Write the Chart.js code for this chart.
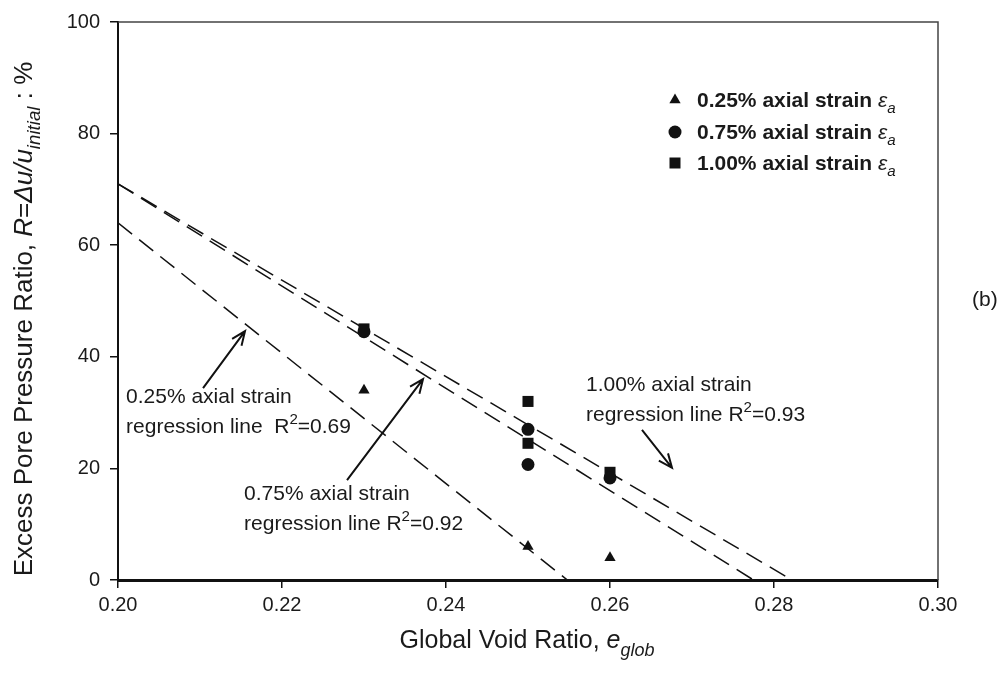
<!DOCTYPE html>
<html>
<head>
<meta charset="utf-8">
<script src="https://cdn.jsdelivr.net/npm/chart.js@4.4.1/dist/chart.umd.min.js"></script>
<style>
html,body{margin:0;padding:0;background:#fff;}
#wrap{width:1008px;height:677px;}
</style>
</head>
<body>
<div id="wrap"><canvas id="c" width="1008" height="677"></canvas></div>
<script>
// ---- data ----
const xTickLabels = ['0.20','0.22','0.24','0.26','0.28','0.30'];
const yTickLabels = ['0','20','40','60','80','100'];

const e025 = [0.23, 0.25, 0.26];
const r025 = [34, 6, 4];
const e075 = [0.23, 0.25, 0.25, 0.26];
const r075 = [44.5, 27, 20.7, 18.3];
const e100 = [0.23, 0.25, 0.25, 0.26];
const r100 = [45, 32, 24.5, 19.3];

// regression lines: endpoints (x at left edge, x at R=0)
const reg025X = [0.20, 0.2548];
const reg025Y = [64, 0];
const reg075X = [0.20, 0.2775];
const reg075Y = [71, 0];
const reg100X = [0.20, 0.2822];
const reg100Y = [71, 0];

const seriesNames = ['0.25% axial strain ', '0.75% axial strain ', '1.00% axial strain '];

// annotation arrows (data coordinates: [x, R])
const arrowFrom = [[0.21037, 34.4], [0.22793, 17.9], [0.26390, 26.9]];
const arrowTo   = [[0.21549, 44.6], [0.23720, 36.0], [0.26756, 20.1]];
// annotation text anchors (data coordinates: left, baseline)
const noteAnchor = [[0.20098, 31.7], [0.21537, 14.3], [0.25707, 33.9]];
const noteLine1 = ['0.25% axial strain', '0.75% axial strain', '1.00% axial strain'];
const noteLine2 = ['regression line  R', 'regression line R', 'regression line R'];
const noteR2 = ['=0.69', '=0.92', '=0.93'];

const pts = (xs, ys) => xs.map((x, i) => ({x: x, y: ys[i]}));

const FONT = '"Liberation Sans", Arial, Helvetica, sans-serif';
const INK = '#111';
const TXT = '#1a1a1a';

function richWidth(ctx, parts, size) {
  let w = 0;
  for (const p of parts) {
    const s = (p.sub || p.sup) ? size * 0.72 : size;
    ctx.font = (p.italic ? 'italic ' : '') + (p.bold ? 'bold ' : '') + s + 'px ' + FONT;
    w += ctx.measureText(p.t).width;
  }
  return w;
}
function drawRich(ctx, x, y, parts, size) {
  ctx.textBaseline = 'alphabetic';
  ctx.textAlign = 'left';
  for (const p of parts) {
    const s = (p.sub || p.sup) ? size * 0.72 : size;
    ctx.font = (p.italic ? 'italic ' : '') + (p.bold ? 'bold ' : '') + s + 'px ' + FONT;
    let dy = 0;
    if (p.sub) dy = size * 0.3;
    if (p.sup) dy = -size * 0.42;
    ctx.fillText(p.t, x, y + dy);
    x += ctx.measureText(p.t).width;
  }
  return x;
}

function drawMarker(ctx, style, x, y) {
  ctx.fillStyle = INK;
  ctx.beginPath();
  if (style === 'triangle') {
    const r = 6.5;
    ctx.moveTo(x, y - r);
    ctx.lineTo(x + r * 0.866, y + r * 0.5);
    ctx.lineTo(x - r * 0.866, y + r * 0.5);
    ctx.closePath();
  } else if (style === 'circle') {
    ctx.arc(x, y, 6.5, 0, Math.PI * 2);
  } else {
    ctx.rect(x - 5.5, y - 5.5, 11, 11);
  }
  ctx.fill();
}

const overlay = {
  id: 'overlay',
  afterDraw(chart) {
    const ctx = chart.ctx;
    const xs = chart.scales.x, ys = chart.scales.y;
    const ca = chart.chartArea;
    ctx.save();
    // top / right frame
    ctx.strokeStyle = '#444';
    ctx.lineWidth = 1.5;
    ctx.beginPath();
    ctx.moveTo(ca.left, ca.top);
    ctx.lineTo(ca.right, ca.top);
    ctx.lineTo(ca.right, ca.bottom);
    ctx.stroke();

    // arrows
    ctx.strokeStyle = INK;
    ctx.lineWidth = 2;
    for (let i = 0; i < arrowFrom.length; i++) {
      const x0 = xs.getPixelForValue(arrowFrom[i][0]), y0 = ys.getPixelForValue(arrowFrom[i][1]);
      const x1 = xs.getPixelForValue(arrowTo[i][0]), y1 = ys.getPixelForValue(arrowTo[i][1]);
      const a = Math.atan2(y1 - y0, x1 - x0);
      ctx.beginPath();
      ctx.moveTo(x0, y0); ctx.lineTo(x1, y1);
      const L = 15, h = 0.4;
      ctx.moveTo(x1 - L * Math.cos(a - h), y1 - L * Math.sin(a - h));
      ctx.lineTo(x1, y1);
      ctx.lineTo(x1 - L * Math.cos(a + h), y1 - L * Math.sin(a + h));
      ctx.stroke();
    }

    // notes
    ctx.fillStyle = TXT;
    for (let i = 0; i < noteAnchor.length; i++) {
      const x = xs.getPixelForValue(noteAnchor[i][0]);
      const y = ys.getPixelForValue(noteAnchor[i][1]);
      drawRich(ctx, x, y, [{t: noteLine1[i]}], 21);
      drawRich(ctx, x, y + 30, [{t: noteLine2[i]}, {t: '2', sup: true}, {t: noteR2[i]}], 21);
    }

    // legend
    const styles = ['triangle', 'circle', 'rect'];
    const legY = [107, 139, 170];
    for (let i = 0; i < 3; i++) {
      drawMarker(ctx, styles[i], 675, legY[i] - 7);
      ctx.fillStyle = TXT;
      drawRich(ctx, 697, legY[i], [{t: seriesNames[i], bold: true}, {t: 'ε', italic: true}, {t: 'a', italic: true, sub: true}], 21);
    }

    // x title
    ctx.fillStyle = TXT;
    const xt = [{t: 'Global Void Ratio, '}, {t: 'e', italic: true}, {t: 'glob', italic: true, sub: true}];
    const xw = richWidth(ctx, xt, 25);
    drawRich(ctx, 527 - xw / 2, 648, xt, 25);

    // y title
    const yt = [{t: 'Excess Pore Pressure Ratio, '}, {t: 'R', italic: true}, {t: '='}, {t: 'Δu/u', italic: true},
                {t: 'initial', italic: true, sub: true}, {t: ' : %'}];
    const yw = richWidth(ctx, yt, 26);
    ctx.save();
    ctx.translate(32, 319);
    ctx.rotate(-Math.PI / 2);
    drawRich(ctx, -yw / 2, 0, yt, 26);
    ctx.restore();

    // panel label
    ctx.font = '21px ' + FONT;
    ctx.textAlign = 'left';
    ctx.textBaseline = 'middle';
    ctx.fillText('(b)', 972, 300);
    ctx.restore();
  }
};

const dashed = {borderColor: INK, borderWidth: 1.5, borderDash: [18, 9], pointRadius: 0, showLine: true, fill: false, type: 'line'};

new Chart(document.getElementById('c'), {
  type: 'scatter',
  data: {
    datasets: [
      Object.assign({label: 'reg 0.25', data: pts(reg025X, reg025Y), order: 5}, dashed),
      Object.assign({label: 'reg 0.75', data: pts(reg075X, reg075Y), order: 5}, dashed),
      Object.assign({label: 'reg 1.00', data: pts(reg100X, reg100Y), order: 5}, dashed),
      {label: seriesNames[1], data: pts(e075, r075), pointStyle: 'circle', pointRadius: 6.5, backgroundColor: INK, borderWidth: 0, order: 1},
      {label: seriesNames[2], data: pts(e100, r100), pointStyle: 'rect', pointRadius: 7.8, backgroundColor: INK, borderWidth: 0, order: 2},
      {label: seriesNames[0], data: pts(e025, r025), pointStyle: 'triangle', pointRadius: 6.5, backgroundColor: INK, borderWidth: 0, order: 3}
    ]
  },
  options: {
    responsive: false,
    animation: false,
    events: [],
    layout: {padding: {left: 0, right: 70, top: 22, bottom: 0}},
    plugins: {legend: {display: false}, tooltip: {enabled: false}},
    scales: {
      x: {
        type: 'linear', min: 0.2, max: 0.3,
        afterBuildTicks(s) { s.ticks = xTickLabels.map(v => ({value: parseFloat(v)})); },
        ticks: {callback: (v, i) => xTickLabels[i], color: TXT, font: {family: FONT, size: 20}, padding: 5, maxRotation: 0},
        grid: {drawOnChartArea: false, drawTicks: true, tickLength: 8, color: INK, lineWidth: 1.5},
        border: {color: INK, width: 3},
        afterFit(s) { s.height = 97; }
      },
      y: {
        min: 0, max: 100,
        afterBuildTicks(s) { s.ticks = yTickLabels.map(v => ({value: parseFloat(v)})); },
        ticks: {callback: (v, i) => yTickLabels[i], color: TXT, font: {family: FONT, size: 20}, padding: 10},
        grid: {drawOnChartArea: false, drawTicks: true, tickLength: 8, color: INK, lineWidth: 1.5},
        border: {color: INK, width: 2},
        afterFit(s) { s.width = 118; }
      }
    }
  },
  plugins: [overlay]
});
</script>
</body>
</html>
